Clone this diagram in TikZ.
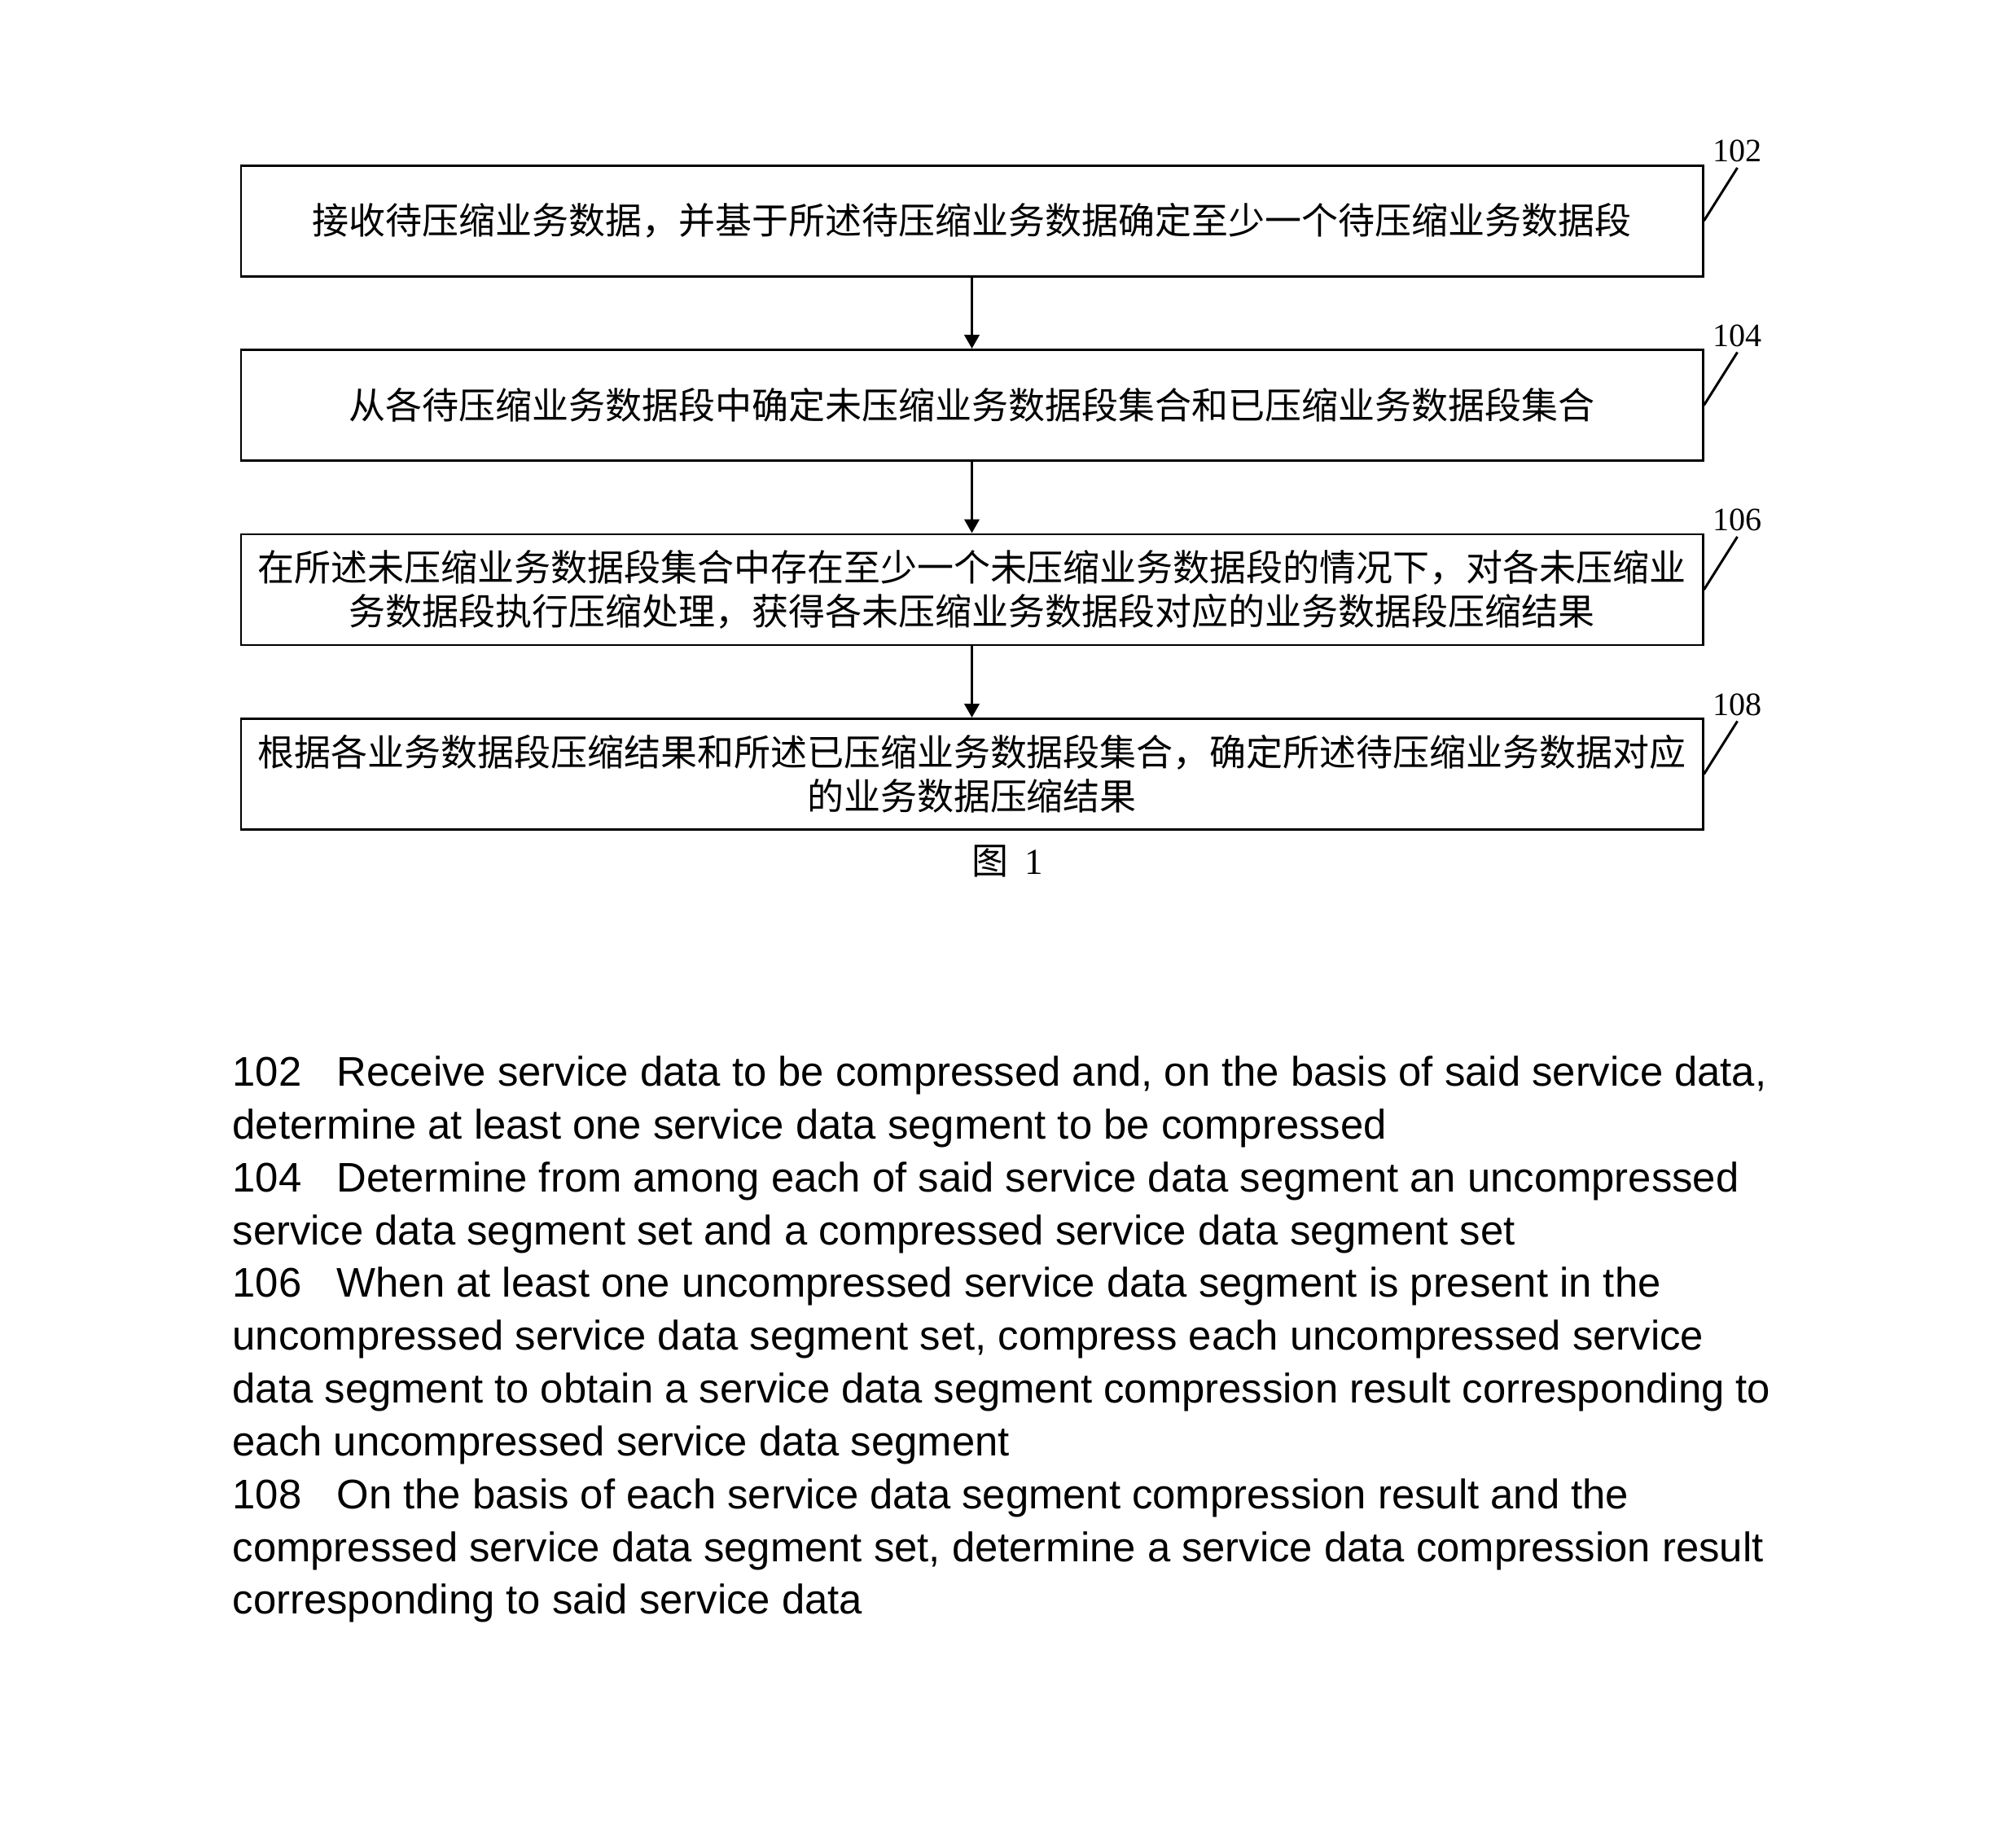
\documentclass[tikz,border=0pt]{standalone}
\usepackage{fontspec}
\setmainfont{Liberation Serif}
\newfontfamily\cjk{Noto Sans CJK SC}
\newfontfamily\enfont{Liberation Sans}
\usepackage{tikz}
\usetikzlibrary{arrows.meta,positioning}

\begin{document}
\begin{tikzpicture}[
  stepbox/.style={draw, line width=0.85pt, minimum width=17.95cm, minimum height=1.36cm, inner sep=0pt, align=center, font=\cjk\fontsize{12.8}{15.25}\selectfont},
  flowarrow/.style={-{Triangle[width=5.2pt,length=4.8pt]}, line width=0.85pt},
  refline/.style={line width=0.85pt},
  reflabel/.style={anchor=south, inner sep=1.5pt, font=\fontsize{11.4}{13}\selectfont},
  engtext/.style={anchor=north west, inner sep=0pt, align=left, font=\enfont\fontsize{14.45}{18.45}\selectfont}
]
  \useasboundingbox (0,0) rectangle (24.72,-22.68);

  %--- Flow chart ---
  \node[stepbox] (s102) at (11.935,-2.71) {接收待压缩业务数据，并基于所述待压缩业务数据确定至少一个待压缩业务数据段};
  \node[stepbox, below=0.875cm of s102] (s104) {从各待压缩业务数据段中确定未压缩业务数据段集合和已压缩业务数据段集合};
  \node[stepbox, below=0.875cm of s104] (s106) {在所述未压缩业务数据段集合中存在至少一个未压缩业务数据段的情况下，对各未压缩业\\务数据段执行压缩处理，获得各未压缩业务数据段对应的业务数据段压缩结果};
  \node[stepbox, below=0.875cm of s106] (s108) {根据各业务数据段压缩结果和所述已压缩业务数据段集合，确定所述待压缩业务数据对应\\的业务数据压缩结果};

  % Arrows
  \draw[flowarrow] (s102) -- (s104);
  \draw[flowarrow] (s104) -- (s106);
  \draw[flowarrow] (s106) -- (s108);

  % Reference numerals
  \draw[refline] (s102.east) -- ++(0.41,0.65) node[reflabel] (l102) {102};
  \draw[refline] (s104.east) -- ++(0.41,0.65) node[reflabel] (l104) {104};
  \draw[refline] (s106.east) -- ++(0.41,0.65) node[reflabel] (l106) {106};
  \draw[refline] (s108.east) -- ++(0.41,0.65) node[reflabel] (l108) {108};

  % Caption
  \node[font=\fontsize{12.8}{15}\selectfont] (fig) at (12.37,-10.57) {{\cjk 图}\hspace{0.2cm}1};

  %--- English translation ---
  \node[engtext] (eng) at (2.85,-12.96) {%
    \makebox[1.28cm][l]{102}Receive service data to be compressed and, on the basis of said service data,\\
    determine at least one service data segment to be compressed\\
    \makebox[1.28cm][l]{104}Determine from among each of said service data segment an uncompressed\\
    service data segment set and a compressed service data segment set\\
    \makebox[1.28cm][l]{106}When at least one uncompressed service data segment is present in the\\
    uncompressed service data segment set, compress each uncompressed service\\
    data segment to obtain a service data segment compression result corresponding to\\
    each uncompressed service data segment\\
    \makebox[1.28cm][l]{108}On the basis of each service data segment compression result and the\\
    compressed service data segment set, determine a service data compression result\\
    corresponding to said service data};
\end{tikzpicture}
\end{document}
